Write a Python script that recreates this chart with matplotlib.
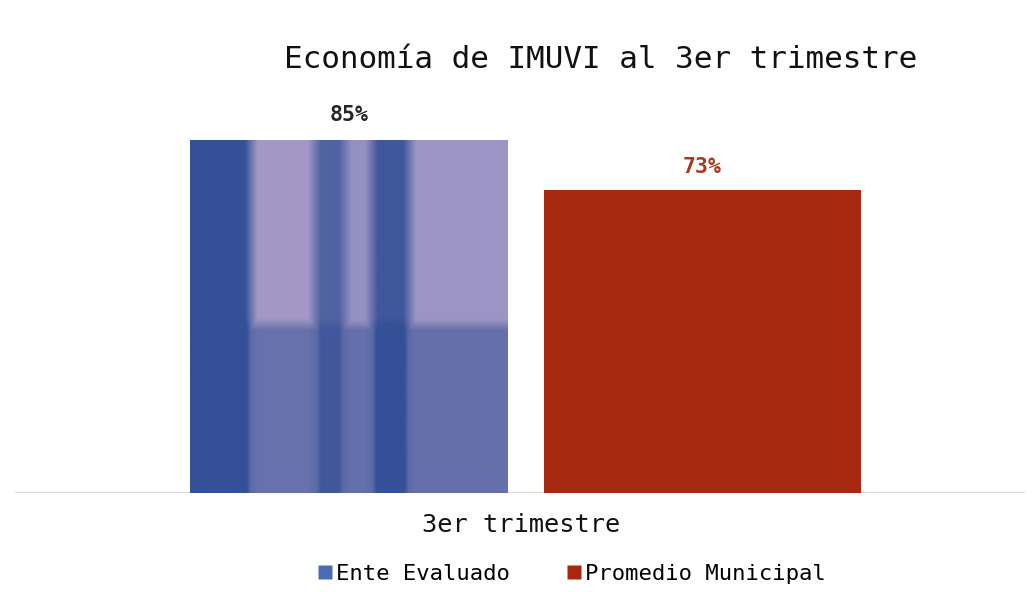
import numpy as np
import matplotlib
matplotlib.use("Agg")
import matplotlib.pyplot as plt
from matplotlib.lines import Line2D

title = "Economía de IMUVI al 3er trimestre"
category = "3er trimestre"
series_names = ["Ente Evaluado", "Promedio Municipal"]
values = [85, 73]
labels = ["85%", "73%"]

blue_dark = np.array([52, 80, 150]) / 255
blue_light = np.array([168, 156, 200]) / 255
red = "#a6280f"
red_label = "#a8391b"

fig = plt.figure(figsize=(10.32, 5.92), dpi=100)
ax = fig.add_axes([15 / 1032, 1 - 493 / 592, 1010 / 1032, 400 / 592])
ax.set_xlim(-0.5, 0.5)
ax.set_ylim(0, 400 / 4.153)
for s in ax.spines.values():
    s.set_visible(False)
ax.set_xticks([])
ax.set_yticks([])
ax.axhline(0, color="#cfcfcf", lw=1.2, zorder=1)

width = 0.314
offsets = [-0.1695, 0.1805]
bars = ax.bar(offsets, values, width=width, color=[blue_dark, red], zorder=2)

# plaid texture for the scanned blue bar
b = bars[0]
x0, w, h = b.get_x(), b.get_width(), b.get_height()
nx, ny = 317, 353
xs = np.linspace(0, 1, nx)
ys = np.linspace(0, 1, ny)  # 0 = bottom
col = np.zeros(nx)
stripes = [(0.0, 0.19, 1.0), (0.19, 0.39, 0.05), (0.39, 0.49, 0.75),
           (0.49, 0.57, 0.15), (0.57, 0.69, 0.9), (0.69, 1.0, 0.1)]
for a, bb, v in stripes:
    col[(xs >= a) & (xs <= bb)] = v
k = np.ones(13) / 13
col = np.convolve(np.pad(col, 6, mode="edge"), k, mode="valid")
row = np.where(ys < 0.48, 0.55, 0.0)
row = np.convolve(np.pad(row, 6, mode="edge"), k, mode="valid")
W = np.maximum(col[None, :], row[:, None])
W = np.clip(W + 0.35 * row[:, None] * col[None, :], 0, 1)
img = blue_light[None, None, :] * (1 - W[..., None]) + blue_dark[None, None, :] * W[..., None]
im = ax.imshow(img, extent=[x0, x0 + w, 0, h], origin="lower", aspect="auto",
               interpolation="bilinear", zorder=3)
im.set_clip_path(b)
ax.set_xlim(-0.5, 0.5)
ax.set_ylim(0, 400 / 4.153)

mono = "DejaVu Sans Mono"
ax.text(offsets[0], values[0] + 3.6, labels[0], ha="center", va="bottom",
        fontsize=15.5, family=mono, color="#262626", weight="bold")
ax.text(offsets[1], values[1] + 3.0, labels[1], ha="center", va="bottom",
        fontsize=15.5, family=mono, color=red_label, weight="bold")

fig.text(601 / 1032, 1 - 60 / 592, title, ha="center", va="center",
         fontsize=22.3, family=mono, color="#111111")
fig.text(521 / 1032, 1 - 525 / 592, category, ha="center", va="center",
         fontsize=18.3, family=mono, color="#111111")

handles = [Line2D([], [], marker="s", ls="", markersize=10, markerfacecolor="#4a6bb0",
                  markeredgecolor="none"),
           Line2D([], [], marker="s", ls="", markersize=10, markerfacecolor=red,
                  markeredgecolor="none")]
fig.legend(handles, series_names, loc="center", bbox_to_anchor=(572 / 1032, 1 - 574 / 592),
           ncol=2, frameon=False, prop={"family": mono, "size": 16},
           handlelength=0.6, handletextpad=0.2, columnspacing=2.6, borderpad=0)

fig.savefig("out.png", dpi=100, facecolor="white")
